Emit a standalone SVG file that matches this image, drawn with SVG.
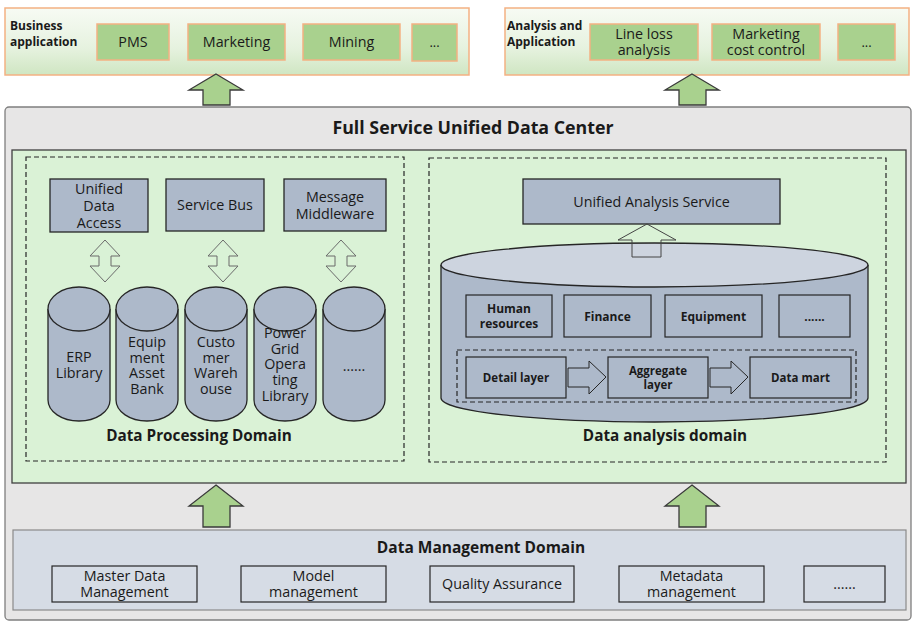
<svg xmlns="http://www.w3.org/2000/svg" width="912" height="622" viewBox="0 0 912 622">
<defs>
<linearGradient id="barg" x1="0" y1="0" x2="0" y2="1">
<stop offset="0" stop-color="#f7fbf4"/>
<stop offset="0.6" stop-color="#e6f2df"/>
<stop offset="1" stop-color="#cfe6c2"/>
</linearGradient>
<style>
text{font-family:"Open Sans","Liberation Sans",Arial,sans-serif;fill:#1a1a1a;text-anchor:middle}
.t14{font-size:14.3px}
.t13{font-size:13px}
.s12{font-size:12px}
.b{font-weight:bold}
.bar{fill:url(#barg);stroke:#f4b183;stroke-width:1.5}
.app{fill:#a9d18e;stroke:#f4b183;stroke-width:1.5}
.garrow{fill:#a9d18e;stroke:#3a3a3a;stroke-width:1.3}
.harrow{fill:#d9f2d6;stroke:#6b6b6b;stroke-width:1}
.blue{fill:#adb9ca;stroke:#262626;stroke-width:1.3}
.dash{fill:none;stroke:#262626;stroke-width:1.2;stroke-dasharray:5,3}
.mbox{fill:none;stroke:#262626;stroke-width:1.2}
</style>
</defs>

<g id="business-bar">
<rect class="bar" x="5" y="8" width="464" height="67"/>
<text class="s12 b" x="10" y="30" style="text-anchor:start">Business<tspan x="10" dy="16">application</tspan></text>
</g>
<g id="pms"><rect class="app" x="97" y="24" width="72" height="36"/><text class="t14" x="133" y="47">PMS</text></g>
<g id="marketing"><rect class="app" x="188" y="24" width="97" height="36"/><text class="t14" x="236.5" y="47">Marketing</text></g>
<g id="mining"><rect class="app" x="303" y="24" width="97" height="36"/><text class="t14" x="351.5" y="47">Mining</text></g>
<g id="biz-more"><rect class="app" x="412" y="24" width="45" height="37"/><text class="t13" x="434.5" y="47">...</text></g>

<g id="analysis-bar">
<rect class="bar" x="505" y="8" width="404" height="67"/>
<text class="s12 b" x="507" y="30" style="text-anchor:start">Analysis and<tspan x="507" dy="16">Application</tspan></text>
</g>
<g id="line-loss"><rect class="app" x="590" y="24" width="108" height="36"/><text class="t14" x="644" y="39">Line loss<tspan x="644" dy="16">analysis</tspan></text></g>
<g id="marketing-cost"><rect class="app" x="712" y="24" width="108" height="36"/><text class="t14" x="766" y="39">Marketing<tspan x="766" dy="16">cost control</tspan></text></g>
<g id="ana-more"><rect class="app" x="838" y="24" width="57" height="36"/><text class="t13" x="866.5" y="47">...</text></g>

<g id="data-center">
<rect x="5" y="107" width="906" height="513" rx="4" fill="#e7e6e6" stroke="#7f7f7f" stroke-width="1.3"/>
<text class="b" x="473" y="134" style="font-size:17.8px">Full Service Unified Data Center</text>
<rect x="12" y="150" width="894" height="333" fill="#daf2d6" stroke="#404040" stroke-width="1.3"/>
</g>

<g id="data-processing-domain">
<rect class="dash" x="26" y="157" width="378" height="304"/>
<text class="b" x="199" y="441" style="font-size:15.3px">Data Processing Domain</text>
</g>
<g id="unified-data-access"><rect class="blue" x="50" y="179" width="98" height="53"/><text class="t14" x="99" y="194">Unified<tspan x="99" dy="17">Data</tspan><tspan x="99" dy="17">Access</tspan></text></g>
<g id="service-bus"><rect class="blue" x="166" y="179" width="98" height="52"/><text class="t14" x="215" y="210">Service Bus</text></g>
<g id="message-middleware"><rect class="blue" x="284" y="179" width="102" height="52"/><text class="t14" x="335" y="202">Message<tspan x="335" dy="17">Middleware</tspan></text></g>

<g id="cyl-erp">
<path class="blue" d="M48,309 V400 A31,21 0 0 0 110,400 V309"/>
<ellipse class="blue" cx="79" cy="309" rx="31" ry="22"/>
<text class="t14" x="79" y="362">ERP<tspan x="79" dy="16">Library</tspan></text>
</g>
<g id="cyl-equipment">
<path class="blue" d="M116,309 V400 A31,21 0 0 0 178,400 V309"/>
<ellipse class="blue" cx="147" cy="309" rx="31" ry="22"/>
<text class="t14" x="147" y="347">Equip<tspan x="147" dy="15.7">ment</tspan><tspan x="147" dy="15.7">Asset</tspan><tspan x="147" dy="15.7">Bank</tspan></text>
</g>
<g id="cyl-customer">
<path class="blue" d="M185,309 V400 A31,21 0 0 0 247,400 V309"/>
<ellipse class="blue" cx="216" cy="309" rx="31" ry="22"/>
<text class="t14" x="216" y="347">Custo<tspan x="216" dy="15.7">mer</tspan><tspan x="216" dy="15.7">Wareh</tspan><tspan x="216" dy="15.7">ouse</tspan></text>
</g>
<g id="cyl-power-grid">
<path class="blue" d="M254,309 V400 A31,21 0 0 0 316,400 V309"/>
<ellipse class="blue" cx="285" cy="309" rx="31" ry="22"/>
<text class="t14" x="285" y="338">Power<tspan x="285" dy="15.7">Grid</tspan><tspan x="285" dy="15.7">Opera</tspan><tspan x="285" dy="15.7">ting</tspan><tspan x="285" dy="15.7">Library</tspan></text>
</g>
<g id="cyl-more">
<path class="blue" d="M323,309 V400 A31,21 0 0 0 385,400 V309"/>
<ellipse class="blue" cx="354" cy="309" rx="31" ry="22"/>
<text class="t14" x="354" y="371">......</text>
</g>

<g id="data-analysis-domain">
<rect class="dash" x="429" y="158" width="457" height="304"/>
<text class="b" x="665" y="441" style="font-size:15.3px">Data analysis domain</text>
</g>
<g id="unified-analysis-service"><rect class="blue" x="523" y="179" width="257" height="45"/><text class="t14" x="651.5" y="207">Unified Analysis Service</text></g>
<g id="analysis-cylinder">
<path class="blue" d="M441,265 V398 A213.5,24 0 0 0 868,398 V265"/>
<ellipse cx="654.5" cy="265" rx="213.5" ry="22" fill="#cdd4df" stroke="#262626" stroke-width="1.3"/>
</g>
<g id="human-resources"><rect class="mbox" x="466" y="295" width="86" height="42"/><text class="s12 b" x="509" y="313">Human<tspan x="509" dy="15">resources</tspan></text></g>
<g id="finance"><rect class="mbox" x="564" y="295" width="87" height="42"/><text class="s12 b" x="607.5" y="321">Finance</text></g>
<g id="equipment"><rect class="mbox" x="665" y="295" width="97" height="42"/><text class="s12 b" x="713.5" y="321">Equipment</text></g>
<g id="topic-more"><rect class="mbox" x="779" y="295" width="71" height="42"/><text class="s12 b" x="814.5" y="321">......</text></g>
<g id="layers"><rect class="dash" x="457" y="350" width="399" height="52"/></g>
<g id="detail-layer"><rect class="mbox" x="466" y="357" width="100" height="41"/><text class="b" x="516" y="382" style="font-size:11.5px">Detail layer</text></g>
<g id="aggregate-layer"><rect class="mbox" x="608" y="357" width="100" height="41"/><text class="b" x="658" y="375" style="font-size:11.5px">Aggregate<tspan x="658" dy="14">layer</tspan></text></g>
<g id="data-mart"><rect class="mbox" x="750" y="357" width="101" height="41"/><text class="b" x="800.5" y="382" style="font-size:11.5px">Data mart</text></g>

<g id="data-management-domain">
<rect x="13" y="530" width="893" height="80" fill="#d6dce5" stroke="#8a8a8a" stroke-width="1.2"/>
<text class="b" x="481" y="553" style="font-size:15.5px">Data Management Domain</text>
</g>
<g id="master-data"><rect class="mbox" x="52" y="566" width="145" height="36"/><text class="t14" x="124.5" y="581">Master Data<tspan x="124.5" dy="16">Management</tspan></text></g>
<g id="model-mgmt"><rect class="mbox" x="241" y="566" width="145" height="36"/><text class="t14" x="313.5" y="581">Model<tspan x="313.5" dy="16">management</tspan></text></g>
<g id="quality"><rect class="mbox" x="430" y="566" width="144" height="36"/><text class="t14" x="502" y="589">Quality Assurance</text></g>
<g id="metadata"><rect class="mbox" x="619" y="566" width="145" height="36"/><text class="t14" x="691.5" y="581">Metadata<tspan x="691.5" dy="16">management</tspan></text></g>
<g id="mgmt-more"><rect class="mbox" x="804" y="566" width="81" height="36"/><text class="t14" x="844.5" y="589">......</text></g>

<g id="connectors">
<polygon class="garrow" points="216,74 243,90 230,90 230,105 203,105 203,90 189,90"/>
<polygon class="garrow" points="692,74 719,90 706,90 706,105 679,105 679,90 665,90"/>
<polygon class="garrow" points="216,485 243,506 230,506 230,527 203,527 203,506 189,506"/>
<polygon class="garrow" points="692,485 719,506 706,506 706,527 679,527 679,506 665,506"/>
<polygon class="harrow" points="105,240 120,256 111,256 111,266 120,266 105,282 90,266 99,266 99,256 90,256"/>
<polygon class="harrow" points="223,240 238,256 229,256 229,266 238,266 223,282 208,266 217,266 217,256 208,256"/>
<polygon class="harrow" points="341,240 356,256 347,256 347,266 356,266 341,282 326,266 335,266 335,256 326,256"/>
<polygon fill="none" stroke="#444" stroke-width="1" points="647,224 676,240 661,240 661,257 632,257 632,240 618,240"/>
<polygon fill="#adb9ca" stroke="#262626" stroke-width="1" points="568,368 589,368 589,361 606,377 589,394 589,387 568,387"/>
<polygon fill="#adb9ca" stroke="#262626" stroke-width="1" points="710,368 731,368 731,361 748,377 731,394 731,387 710,387"/>
</g>
</svg>
